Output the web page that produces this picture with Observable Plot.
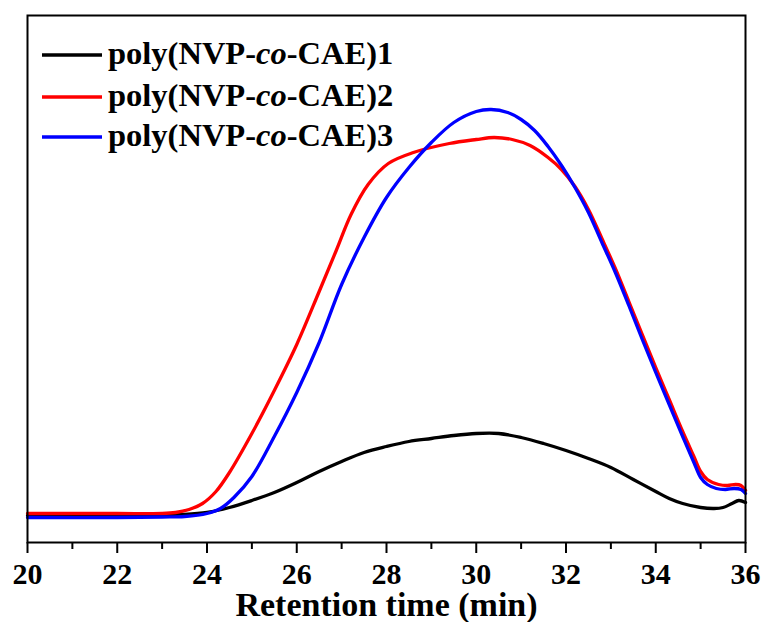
<!DOCTYPE html>
<html><head><meta charset="utf-8">
<script src="https://cdn.jsdelivr.net/npm/d3@7"></script>
<script src="https://cdn.jsdelivr.net/npm/@observablehq/plot@0.6"></script>
<style>
body{margin:0;background:#fff;}
#chart{position:relative;width:765px;height:622px;}
</style>
</head><body><div id="chart"></div>
<script>
// Series names and colours
const seriesNames = ["poly(NVP-co-CAE)1", "poly(NVP-co-CAE)2", "poly(NVP-co-CAE)3"];
const seriesColors = ["#000000", "#ff0000", "#0000ff"];

// Retention time (min) and signal (a.u.)
const t1 = [20,21,22,23,23.5,24,24.5,25,25.5,26,26.5,27,27.5,28,28.5,29,29.5,30,30.5,31,31.5,32,32.5,33,33.5,34,34.3,34.6,35,35.3,35.5,35.7,35.85,36];
const v1 = [27,27,27,27.5,28,30,35,42,50,60,71,81,90,96,101,104,107,109,109,105,99,92,84,75,63,51,44,39,35,34,35,39,42,40];

const t2 = [20,22,23,23.3,23.6,23.9,24.2,24.5,25,25.5,26,26.5,26.88,27.21,27.59,28.04,28.6,29.4,30,30.4,30.8,31.2,31.6,31.9,32.2,32.5,32.8,33.1,33.4,33.7,34,34.3,34.6,34.85,35,35.15,35.4,35.6,35.78,35.9,36];
const v2 = [29,29,29,30,33,39,51,70,109,152,198,251,292,328,358,379,390,399,403,405,403,397,385,373,356,333,304,274,241,208,175,143,111,86,71,63,58,57,58,57,52];

const t3 = [20,22,23,23.5,24,24.3,24.6,25,25.5,26,26.5,27,27.5,28,28.5,29,29.5,30,30.33,30.7,31,31.3,31.6,31.9,32.2,32.5,32.8,33.1,33.4,33.7,34,34.3,34.6,34.85,35,35.15,35.35,35.55,35.75,35.9,36];
const v3 = [25,25,25.5,26,29,34,45,66,106,150,200,258,305,345,375,400,420,431,433,430,423,412,396,377,355,330,300,270,237,203,170,138,106,80,65,58,54,53,54,53,49];

const xMajorTicks = [20,22,24,26,28,30,32,34,36];
const xMinorTicks = [21,23,25,27,29,31,33,35];
const xLabel = "Retention time (min)";

const times = [t1, t2, t3];
const vals = [v1, v2, v3];
const data = [];
seriesNames.forEach((name, i) => {
  times[i].forEach((t, j) => data.push({series: name, t, v: vals[i][j]}));
});

const font = "'Liberation Serif', 'Times New Roman', serif";

const plot = Plot.plot({
  width: 765,
  height: 622,
  marginLeft: 27,
  marginRight: 20,
  marginTop: 15,
  marginBottom: 80,
  style: {fontFamily: font, fontWeight: "bold", background: "#fff", color: "#000"},
  x: {domain: [20, 36]},
  y: {domain: [0, 527], axis: null},
  color: {domain: seriesNames, range: seriesColors},
  marks: [
    Plot.line(data, {x: "t", y: "v", z: "series", stroke: "series", strokeWidth: 3.3, curve: "catmull-rom"}),
    Plot.axisX({ticks: xMinorTicks, tickSize: 7, text: null, strokeWidth: 2, label: null}),
    Plot.axisX({ticks: xMajorTicks, tickSize: 11, tickPadding: 9, fontSize: 30, strokeWidth: 2, label: null, tickFormat: d => String(d)}),
    Plot.text([xLabel], {frameAnchor: "bottom", dy: 73, lineAnchor: "bottom", fontSize: 34, fontWeight: "bold", text: d => d, fill: "#000"}),
    Plot.frame({stroke: "#000", strokeWidth: 2})
  ]
});

document.getElementById("chart").appendChild(plot);

// Legend inside the plot, upper left
const svg = d3.select(plot);
const lg = svg.append("g").attr("font-family", font).attr("font-weight", "bold").attr("font-size", 32.5).attr("text-anchor", "start");
const rowY = [55, 97, 137];
seriesNames.forEach((name, i) => {
  lg.append("line").attr("x1", 42).attr("x2", 102).attr("y1", rowY[i]).attr("y2", rowY[i])
    .attr("stroke", seriesColors[i]).attr("stroke-width", 3.3);
  const tx = lg.append("text").attr("x", 108).attr("y", rowY[i] + 9).attr("fill", "#000").attr("text-anchor", "start");
  const m = name.match(/^(.*-)(co)(-.*)$/);
  tx.append("tspan").text(m[1]);
  tx.append("tspan").attr("font-style", "italic").text(m[2]);
  tx.append("tspan").text(m[3]);
});
</script>
</body></html>
